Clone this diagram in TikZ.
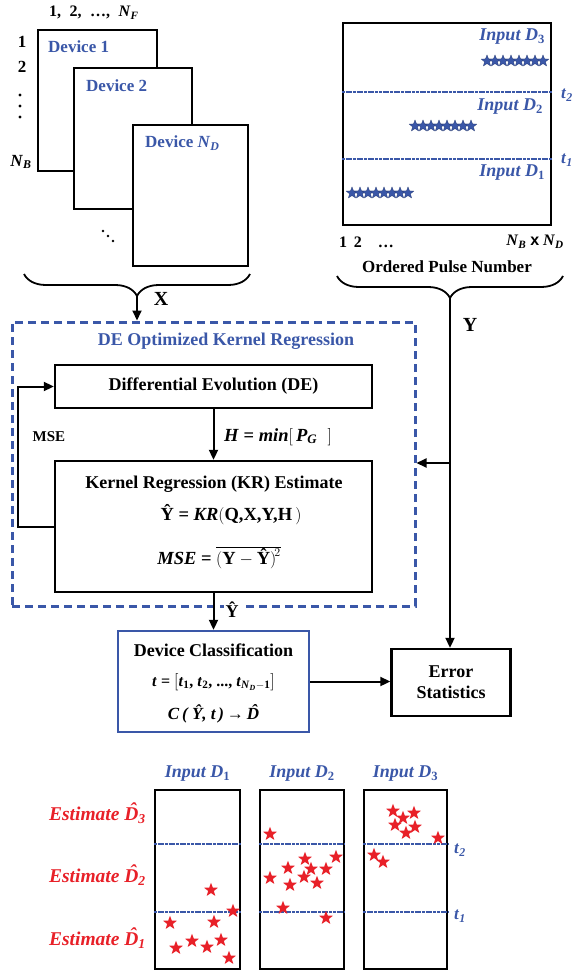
\documentclass[tikz,border=0pt]{standalone}
\usepackage{fontspec}
\setmainfont{Liberation Serif}
\newfontfamily\sansx{Liberation Sans}
\usetikzlibrary{arrows.meta,decorations.pathreplacing,shapes.geometric,calc}
\definecolor{dblue}{RGB}{58,87,168}
\definecolor{sred}{RGB}{232,32,40}
\newcommand{\bi}[1]{\textbf{\textit{#1}}}
\newcommand{\sbs}[1]{\textsubscript{#1}}
\newcommand{\hatD}{\ooalign{D\cr\hidewidth\kern0.15em\raisebox{0.2em}{\char"02C6}\hidewidth\cr}}
\begin{document}
\begin{tikzpicture}[x=1pt,y=-1pt,
  every node/.style={inner sep=0pt, font=\fontsize{17}{20}\selectfont\bfseries},
  box/.style={draw, line width=2.4pt, fill=white},
  arr/.style={-{Triangle[length=10pt,width=9pt]}, line width=2pt},
  thr/.style={draw=dblue, line width=1.6pt, dash pattern=on 3pt off 0.7pt},
  brc/.style={decorate, decoration={brace, mirror, amplitude=22pt}, line width=1.8pt},
  bstar/.style={star, star points=5, star point ratio=2.3, fill=dblue, draw=dblue!70!black, line width=0.3pt, inner sep=0pt, minimum size=12pt},
  rstar/.style={star, star points=5, star point ratio=2.4, fill=sred, inner sep=0pt, minimum size=14.5pt},
  blab/.style={text=dblue},
  rlab/.style={text=sred, font=\fontsize{19.5}{22}\selectfont\bfseries\itshape},
  eq/.style={font=\fontsize{18.5}{21}\selectfont\bfseries}]
\useasboundingbox (0,0) rectangle (573,973);

% ---------- device stack ----------
\node[box, minimum width=119pt, minimum height=141pt] (dev1) at (97.5,100.5) {};
\node[box, minimum width=118pt, minimum height=141pt] (dev2) at (133,138.5) {};
\node[box, minimum width=115pt, minimum height=141pt] (devn) at (190.5,195.5) {};
\node[blab, anchor=west] (dev1l) at (48,47) {Device 1};
\node[blab, anchor=west] (dev2l) at (86,86) {Device 2};
\node[blab, anchor=west] (devnl) at (145,143) {Device \textit{N}\sbs{\textit{D}}};
\node[anchor=west, font=\fontsize{16}{18}\selectfont\bfseries] (cols) at (49,13) {1,\; 2,\; \dots,\; \bi{N}\sbs{\bi{F}}};
\node (r1) at (22,42) {1};
\node (r2) at (22,67) {2};
\fill (20,95) circle (1.6pt) (20,106) circle (1.6pt) (20,117) circle (1.6pt);
\node (rnb) at (21,162) {\bi{N}\sbs{\bi{B}}};
\fill (103,231) circle (1.4pt) (108,236) circle (1.4pt) (113,241) circle (1.4pt);
\draw[brc] (24,274) -- (250,274);
\coordinate (xtip) at (137,296);
\node[font=\fontsize{20}{22}\selectfont\bfseries] (xl) at (161,299) {X};

% ---------- ordered pulses ----------
\node[box, minimum width=208pt, minimum height=202pt] (pulse) at (447,124) {};
\draw[thr] (pulse.west |- 0,92) -- (pulse.east |- 0,92);
\draw[thr] (pulse.west |- 0,159) -- (pulse.east |- 0,159);
\node[blab] (pt2) at (567,95) {\bi{t}\sbs{\bi{2}}};
\node[blab] (pt1) at (567,160) {\bi{t}\sbs{\bi{1}}};
\node[blab, anchor=east, font=\fontsize{18}{20}\selectfont\bfseries] (in3) at (545,37) {\textit{Input D}\sbs{3}};
\node[blab, anchor=east, font=\fontsize{18}{20}\selectfont\bfseries] (in2) at (543,107) {\textit{Input D}\sbs{2}};
\node[blab, anchor=east, font=\fontsize{18}{20}\selectfont\bfseries] (in1) at (545,173) {\textit{Input D}\sbs{1}};
\foreach \i in {0,...,7}{
  \node[bstar] (sa\i) at (487+8*\i,61) {};
  \node[bstar] (sb\i) at (415+8*\i,126) {};
  \node[bstar] (sc\i) at (352+8*\i,193) {};
}
\node[anchor=west, font=\fontsize{16}{18}\selectfont\bfseries] (ax1) at (339,242) {1\, 2\quad \dots};
\node[anchor=east, font=\fontsize{16}{18}\selectfont\bfseries] (ax2) at (564,242) {\bi{N}\sbs{\bi{B}} {\sansx x} \bi{N}\sbs{\bi{D}}};
\node (opn) at (447,267) {Ordered Pulse Number};
\draw[brc] (337,276) -- (563,276);
\coordinate (ytip) at (450,298);
\node[font=\fontsize{20}{22}\selectfont\bfseries] (yl) at (470,325) {Y};

% ---------- DE optimized kernel regression ----------
\node[draw=dblue, line width=3pt, dash pattern=on 8pt off 5pt, minimum width=403pt, minimum height=284pt] (kbox) at (213.5,464) {};
\node[blab, font=\fontsize{18}{20}\selectfont\bfseries] (ktitle) at (226,341) {DE Optimized Kernel Regression};
\node[box, minimum width=317pt, minimum height=43pt, font=\fontsize{18}{20}\selectfont\bfseries] (de) at (213.5,386.5) {Differential Evolution (DE)};
\node[box, minimum width=317pt, minimum height=131pt] (kr) at (213.5,526.5) {};
\node[font=\fontsize{18}{20}\selectfont\bfseries] (krt) at (214,484) {Kernel Regression (KR) Estimate};
\node[eq] (kreq) at (231,515) {Ŷ = \textit{KR}$\Big($Q,X,Y,H\,$\Big)$};
\node[eq] (mseq) at (219,558) {\textit{MSE} = $\overline{\Big(\mbox{\bfseries Y}-\mbox{\bfseries Ŷ}\Big)^{\!2}}$};
\node[eq, anchor=west] (heq) at (224,437) {\textit{H} = \textit{min}$\Big[$\,\textit{P}\sbs{\textit{G}}\;\;$\Big]$};
\node[font=\fontsize{15}{17}\selectfont\bfseries] (msel) at (49,437) {MSE};
\draw[arr] (de.south) -- (kr.north);
\draw[arr] (kr.west) -- ++(-36,0) |- (de.west);
\draw[arr] (xtip) -- (xtip |- kbox.north);

% ---------- classification & error ----------
\node[draw=dblue, line width=2.4pt, minimum width=191pt, minimum height=101pt] (dc) at (213.5,681.5) {};
\node[font=\fontsize{18}{20}\selectfont\bfseries] (dct) at (213.5,650) {Device Classification};
\node[font=\fontsize{16}{18}\selectfont\bfseries] (dceq1) at (213.5,682) {\bi{t} = $\Big[$\bi{t}\sbs{1}, \bi{t}\sbs{2}, ..., \bi{t}\sbs{\bi{N}\sbs{\bi{D}}\bfseries $-$1}$\Big]$};
\node[font=\fontsize{17}{19}\selectfont\bfseries\itshape] (dceq2) at (213.5,714) {C\,( Ŷ, t\,)\,→\,\hatD};
\node[box, minimum width=119pt, minimum height=67pt, align=center, font=\fontsize{18}{21}\selectfont\bfseries] (err) at (451,682.5) {Error\\Statistics};
\draw[arr] (kr.south) -- (dc.north);
\node[fill=white, inner sep=2pt, font=\fontsize{18}{20}\selectfont\bfseries] (yhat) at (232,610) {Ŷ};
\draw[arr] (dc.east) -- (err.west |- dc.east);
\draw[line width=2pt] (ytip) -- (ytip |- 0,463) coordinate (yj);
\draw[arr] (yj) -- (yj |- err.north);
\draw[arr] (yj) -- (yj -| kbox.east);

% ---------- bottom panels ----------
\node[box, minimum width=85pt, minimum height=179pt] (p1) at (197.5,879.5) {};
\node[box, minimum width=84pt, minimum height=179pt] (p2) at (302,879.5) {};
\node[box, minimum width=83pt, minimum height=179pt] (p3) at (405.5,879.5) {};
\foreach \p in {p1,p2,p3}{
  \draw[thr] (\p.west |- 0,844) -- (\p.east |- 0,844);
  \draw[thr] (\p.west |- 0,912) -- (\p.east |- 0,912);
}
\node[blab, font=\fontsize{18}{20}\selectfont\bfseries] (bi1) at (197.5,774) {\textit{Input D}\sbs{1}};
\node[blab, font=\fontsize{18}{20}\selectfont\bfseries] (bi2) at (302,774) {\textit{Input D}\sbs{2}};
\node[blab, font=\fontsize{18}{20}\selectfont\bfseries] (bi3) at (405.5,774) {\textit{Input D}\sbs{3}};
\node[blab] (bt2) at (460,850) {\bi{t}\sbs{\bi{2}}};
\node[blab] (bt1) at (460,916) {\bi{t}\sbs{\bi{1}}};
\node[rlab, anchor=east] (e3) at (146,815) {Estimate \hatD\sbs{3}};
\node[rlab, anchor=east] (e2) at (146,877) {Estimate \hatD\sbs{2}};
\node[rlab, anchor=east] (e1) at (146,940) {Estimate \hatD\sbs{1}};
\foreach [count=\k] \x/\y in {211/890,233/911,170/923,214/922,176/948,192/941,207/947,221/940,229/958,
  270/834,305/859,336/857,288/868,311/869,326/869,270/878,304/877,290/885,317/883,283/908,326/918,
  393/811,414/813,403/818,395/825,415/827,406/833,438/838,374/855,383/862}{
  \node[rstar] (rs\k) at (\x,\y) {};
}
\end{tikzpicture}
\end{document}
